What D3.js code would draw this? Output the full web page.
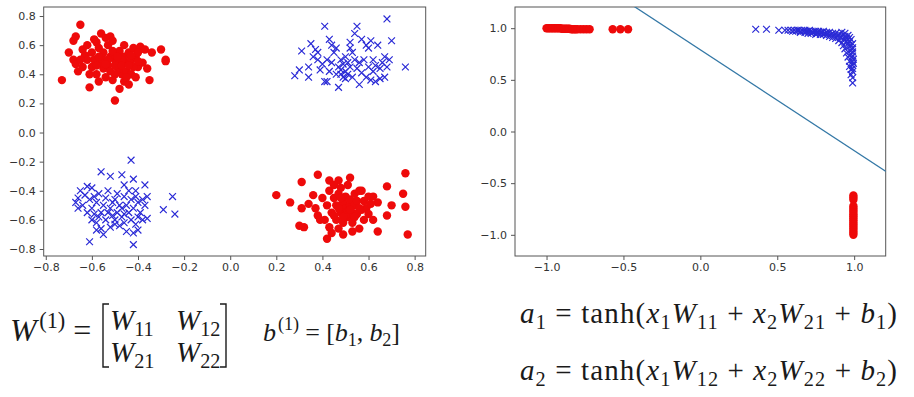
<!DOCTYPE html>
<html>
<head>
<meta charset="utf-8">
<script src="https://cdn.jsdelivr.net/npm/d3@7"></script>
<style>
  body { margin: 0; background: #fff; }
  svg { display: block; }
  text { white-space: pre; }
</style>
</head>
<body>
<svg id="chart" width="914" height="397"></svg>
<script>
// ============= Data =============

// input space, class "red" (circles)
const inputRedTopLeft = [
  [-0.73, 0.36], [-0.65, 0.74], [-0.70, 0.55], [-0.68, 0.63], [-0.67, 0.66], [-0.68, 0.50], [-0.67, 0.47],
  [-0.66, 0.42], [-0.64, 0.57], [-0.63, 0.53], [-0.62, 0.60], [-0.61, 0.31], [-0.60, 0.45], [-0.59, 0.64],
  [-0.58, 0.62], [-0.57, 0.58], [-0.56, 0.68], [-0.55, 0.50], [-0.55, 0.44], [-0.54, 0.65], [-0.53, 0.60],
  [-0.52, 0.66], [-0.51, 0.63], [-0.50, 0.22], [-0.50, 0.50], [-0.49, 0.45], [-0.48, 0.30], [-0.48, 0.56],
  [-0.47, 0.40], [-0.46, 0.52], [-0.45, 0.48], [-0.44, 0.55], [-0.43, 0.50], [-0.42, 0.58], [-0.41, 0.52],
  [-0.40, 0.45], [-0.39, 0.59], [-0.38, 0.48], [-0.37, 0.57], [-0.35, 0.36], [-0.34, 0.55], [-0.30, 0.57],
  [-0.28, 0.50], [-0.28, 0.49], [-0.58, 0.40], [-0.57, 0.35], [-0.56, 0.48], [-0.55, 0.55], [-0.54, 0.38],
  [-0.53, 0.46], [-0.52, 0.52], [-0.52, 0.42], [-0.51, 0.56], [-0.50, 0.40], [-0.49, 0.48], [-0.48, 0.44],
  [-0.47, 0.50], [-0.46, 0.35], [-0.45, 0.42], [-0.44, 0.33], [-0.43, 0.40], [-0.42, 0.45], [-0.41, 0.38],
  [-0.40, 0.55], [-0.62, 0.50], [-0.60, 0.55], [-0.59, 0.50], [-0.58, 0.46], [-0.61, 0.40], [-0.64, 0.45],
  [-0.65, 0.50], [-0.36, 0.44], [-0.40, 0.49], [-0.57, 0.52], [-0.53, 0.50], [-0.50, 0.46], [-0.47, 0.46],
  [-0.44, 0.46], [-0.51, 0.36], [-0.46, 0.60], [-0.54, 0.47], [-0.49, 0.52], [-0.45, 0.38], [-0.43, 0.53],
];

const inputRedBottomRight = [
  [0.20, -0.43], [0.26, -0.48], [0.31, -0.34], [0.31, -0.52], [0.30, -0.64], [0.32, -0.65], [0.34, -0.49],
  [0.36, -0.43], [0.38, -0.29], [0.38, -0.57], [0.39, -0.60], [0.42, -0.73], [0.43, -0.33], [0.47, -0.33],
  [0.52, -0.31], [0.57, -0.40], [0.56, -0.66], [0.64, -0.48], [0.64, -0.68], [0.68, -0.37], [0.68, -0.57],
  [0.70, -0.50], [0.75, -0.42], [0.76, -0.28], [0.76, -0.51], [0.77, -0.70], [0.62, -0.60], [0.60, -0.44],
  [0.42, -0.50], [0.43, -0.40], [0.43, -0.65], [0.44, -0.55], [0.44, -0.69], [0.45, -0.45], [0.45, -0.36],
  [0.46, -0.60], [0.46, -0.50], [0.47, -0.42], [0.47, -0.66], [0.48, -0.55], [0.48, -0.38], [0.49, -0.48],
  [0.49, -0.62], [0.50, -0.52], [0.50, -0.44], [0.51, -0.58], [0.51, -0.36], [0.52, -0.50], [0.52, -0.46],
  [0.53, -0.55], [0.53, -0.62], [0.54, -0.42], [0.54, -0.50], [0.55, -0.56], [0.55, -0.47], [0.56, -0.40],
  [0.57, -0.53], [0.58, -0.60], [0.58, -0.47], [0.59, -0.52], [0.60, -0.56], [0.61, -0.49], [0.62, -0.44],
  [0.40, -0.45], [0.41, -0.60], [0.37, -0.52], [0.49, -0.70], [0.53, -0.68], [0.47, -0.52], [0.51, -0.54],
  [0.50, -0.57], [0.56, -0.52], [0.45, -0.57], [0.48, -0.45], [0.52, -0.53], [0.49, -0.58], [0.54, -0.58],
];

// input space, class "blue" (crosses)
const inputBlueTopRight = [
  [0.28, 0.39], [0.30, 0.43], [0.31, 0.56], [0.34, 0.38], [0.34, 0.45], [0.35, 0.61], [0.36, 0.52],
  [0.37, 0.57], [0.38, 0.55], [0.39, 0.43], [0.40, 0.47], [0.41, 0.35], [0.42, 0.35], [0.41, 0.73],
  [0.42, 0.50], [0.43, 0.64], [0.44, 0.60], [0.45, 0.55], [0.46, 0.58], [0.47, 0.45], [0.47, 0.31],
  [0.48, 0.43], [0.48, 0.50], [0.49, 0.38], [0.49, 0.47], [0.50, 0.52], [0.50, 0.42], [0.51, 0.48],
  [0.51, 0.40], [0.52, 0.62], [0.52, 0.45], [0.53, 0.55], [0.53, 0.38], [0.54, 0.50], [0.54, 0.68],
  [0.55, 0.73], [0.55, 0.44], [0.56, 0.33], [0.56, 0.48], [0.57, 0.41], [0.57, 0.64], [0.58, 0.50],
  [0.59, 0.60], [0.59, 0.38], [0.60, 0.58], [0.60, 0.45], [0.61, 0.36], [0.61, 0.63], [0.62, 0.42],
  [0.62, 0.50], [0.63, 0.35], [0.63, 0.46], [0.64, 0.60], [0.65, 0.44], [0.65, 0.37], [0.66, 0.48],
  [0.67, 0.38], [0.67, 0.52], [0.68, 0.78], [0.68, 0.45], [0.69, 0.50], [0.70, 0.63], [0.76, 0.45],
  [0.44, 0.48], [0.46, 0.40], [0.43, 0.42], [0.38, 0.50], [0.52, 0.58], [0.48, 0.40], [0.50, 0.37],
];

const inputBlueBottomLeft = [
  [-0.43, -0.19], [-0.56, -0.27], [-0.52, -0.30], [-0.47, -0.29], [-0.42, -0.32], [-0.46, -0.36],
  [-0.37, -0.36], [-0.41, -0.40], [-0.25, -0.44], [-0.29, -0.53], [-0.24, -0.56], [-0.36, -0.59],
  [-0.61, -0.75], [-0.42, -0.77], [-0.62, -0.37], [-0.60, -0.38], [-0.65, -0.40], [-0.66, -0.45],
  [-0.67, -0.48], [-0.66, -0.52], [-0.64, -0.50], [-0.63, -0.43], [-0.61, -0.46], [-0.60, -0.52],
  [-0.59, -0.56], [-0.58, -0.62], [-0.58, -0.48], [-0.57, -0.42], [-0.56, -0.55], [-0.56, -0.66],
  [-0.55, -0.50], [-0.54, -0.45], [-0.54, -0.60], [-0.53, -0.40], [-0.52, -0.52], [-0.52, -0.65],
  [-0.51, -0.57], [-0.50, -0.46], [-0.50, -0.60], [-0.49, -0.42], [-0.49, -0.55], [-0.48, -0.64],
  [-0.48, -0.50], [-0.47, -0.58], [-0.46, -0.44], [-0.46, -0.62], [-0.45, -0.50], [-0.45, -0.68],
  [-0.44, -0.55], [-0.43, -0.46], [-0.43, -0.60], [-0.42, -0.52], [-0.42, -0.69], [-0.41, -0.44],
  [-0.41, -0.63], [-0.40, -0.48], [-0.40, -0.67], [-0.39, -0.55], [-0.38, -0.46], [-0.38, -0.60],
  [-0.37, -0.50], [-0.36, -0.44], [-0.55, -0.70], [-0.57, -0.58], [-0.59, -0.44], [-0.53, -0.55],
  [-0.51, -0.48], [-0.47, -0.52], [-0.44, -0.40], [-0.40, -0.58], [-0.62, -0.55], [-0.60, -0.60],
  [-0.58, -0.67], [-0.50, -0.63], [-0.46, -0.56],
];

// hidden layer (after tanh), class "red"
const hiddenRed = [
  [-1.00, 1.00], [-0.99, 1.00], [-0.98, 1.00], [-0.97, 1.00], [-0.96, 1.00], [-0.95, 1.00], [-0.94, 1.00],
  [-0.93, 1.00], [-0.92, 1.00], [-0.91, 1.00], [-0.90, 0.995], [-0.89, 0.995], [-0.88, 0.995], [-0.87, 0.995],
  [-0.86, 0.995], [-0.85, 0.995], [-0.84, 0.99], [-0.83, 0.99], [-0.82, 0.99], [-0.81, 0.99], [-0.80, 0.99],
  [-0.78, 0.99], [-0.76, 0.99], [-0.74, 0.99], [-0.72, 0.99], [-0.57, 0.99], [-0.52, 0.99], [-0.47, 0.99],
  [0.995, -0.62], [0.995, -0.64], [0.995, -0.66], [0.995, -0.72], [0.995, -0.74], [0.995, -0.76],
  [0.995, -0.78], [0.995, -0.80], [0.995, -0.82], [0.995, -0.84], [0.995, -0.86], [0.995, -0.88],
  [0.995, -0.90], [0.995, -0.92], [0.995, -0.94], [0.995, -0.96], [0.995, -0.98], [0.995, -1.00],
];

// hidden layer (after tanh), class "blue"
const hiddenBlue = [
  [0.36, 0.99], [0.43, 0.99], [0.51, 0.98], [0.55, 0.98], [0.57, 0.98], [0.59, 0.98], [0.61, 0.98],
  [0.62, 0.97], [0.63, 0.98], [0.64, 0.98], [0.65, 0.97], [0.66, 0.98], [0.67, 0.97], [0.68, 0.98],
  [0.69, 0.97], [0.70, 0.97], [0.71, 0.98], [0.72, 0.97], [0.73, 0.96], [0.74, 0.97], [0.75, 0.97],
  [0.76, 0.96], [0.77, 0.97], [0.78, 0.96], [0.79, 0.96], [0.80, 0.97], [0.81, 0.95], [0.82, 0.96],
  [0.83, 0.95], [0.84, 0.96], [0.85, 0.94], [0.86, 0.95], [0.87, 0.93], [0.88, 0.95], [0.89, 0.92],
  [0.90, 0.94], [0.91, 0.91], [0.92, 0.93], [0.93, 0.89], [0.94, 0.92], [0.95, 0.87], [0.95, 0.90],
  [0.96, 0.85], [0.96, 0.89], [0.97, 0.82], [0.97, 0.87], [0.975, 0.78], [0.98, 0.84], [0.98, 0.75],
  [0.985, 0.80], [0.985, 0.72], [0.99, 0.77], [0.99, 0.68], [0.99, 0.73], [0.99, 0.64], [0.995, 0.70],
  [0.99, 0.61], [0.995, 0.66], [0.99, 0.58], [0.98, 0.55], [0.99, 0.52], [0.99, 0.47], [0.70, 0.95],
  [0.75, 0.94], [0.80, 0.94], [0.65, 0.96], [0.72, 0.95], [0.78, 0.94], [0.82, 0.93], [0.84, 0.92],
  [0.86, 0.91], [0.88, 0.90], [0.90, 0.88], [0.92, 0.86], [0.93, 0.83], [0.94, 0.80], [0.95, 0.76],
  [0.96, 0.72], [0.97, 0.68], [0.97, 0.63], [0.98, 0.60], [0.92, 0.96], [0.94, 0.95], [0.96, 0.93],
  [0.97, 0.91], [0.98, 0.89], [0.99, 0.85], [0.99, 0.81], [0.60, 0.97], [0.68, 0.96], [0.76, 0.95],
];

// decision boundary in hidden space (two end points)
const boundaryX = [-0.43, 1.21];
const boundaryY = [1.21, -0.39];

const leftTicks = [-0.8, -0.6, -0.4, -0.2, 0.0, 0.2, 0.4, 0.6, 0.8];
const rightTicks = [-1.0, -0.5, 0.0, 0.5, 1.0];

const leftDomainX = [-0.809, 0.848];
const leftDomainY = [-0.848, 0.862];
const rightDomainX = [-1.205, 1.205];
const rightDomainY = [-1.205, 1.205];

// ============= Styles =============

const RED = "#ee0a0a";
const BLUE = "#2b2bd6";
const LINE_COLOR = "#3478a6";
const FRAME_COLOR = "#555";
const TICK_TEXT = "#333";
const TICK_FONT = "'DejaVu Sans', sans-serif";
const MATH_FONT = "'Liberation Serif', 'DejaVu Serif', serif";

const LEFT_FRAME = { x0: 43.7, x1: 425.7, y0: 7, y1: 256 };
const RIGHT_FRAME = { x0: 515, x1: 885.7, y0: 7, y1: 256 };

const svg = d3.select("#chart");

// ============= Panels =============

const drawPanel = (frame, domainX, domainY, ticks, id) => {
  const x = d3.scaleLinear().domain(domainX).range([frame.x0, frame.x1]);
  const y = d3.scaleLinear().domain(domainY).range([frame.y1, frame.y0]);
  const fmt = d3.format(".1f");

  const g = svg.append("g");

  g.append("clipPath")
    .attr("id", id)
    .append("rect")
    .attr("x", frame.x0)
    .attr("y", frame.y0)
    .attr("width", frame.x1 - frame.x0)
    .attr("height", frame.y1 - frame.y0);

  const xAxis = g
    .append("g")
    .attr("transform", `translate(0,${frame.y1})`)
    .call(d3.axisBottom(x).tickValues(ticks).tickFormat(fmt).tickSize(4).tickPadding(3));
  const yAxis = g
    .append("g")
    .attr("transform", `translate(${frame.x0},0)`)
    .call(d3.axisLeft(y).tickValues(ticks).tickFormat(fmt).tickSize(4).tickPadding(4));

  [xAxis, yAxis].forEach((axis) => {
    axis.select(".domain").remove();
    axis.selectAll("line").attr("stroke", FRAME_COLOR);
    axis
      .selectAll("text")
      .style("font-family", TICK_FONT)
      .style("font-size", "11px")
      .attr("fill", TICK_TEXT);
  });

  g.append("rect")
    .attr("x", frame.x0)
    .attr("y", frame.y0)
    .attr("width", frame.x1 - frame.x0)
    .attr("height", frame.y1 - frame.y0)
    .attr("fill", "none")
    .attr("stroke", FRAME_COLOR)
    .attr("stroke-width", 1);

  const marks = g.append("g").attr("clip-path", `url(#${id})`);
  return { x, y, marks };
};

const drawCircles = (panel, points) => {
  panel.marks
    .append("g")
    .selectAll("circle")
    .data(points)
    .join("circle")
    .attr("cx", (d) => panel.x(d[0]))
    .attr("cy", (d) => panel.y(d[1]))
    .attr("r", 4.2)
    .attr("fill", RED);
};

const drawCrosses = (panel, points) => {
  const s = 3.4;
  panel.marks
    .append("g")
    .selectAll("path")
    .data(points)
    .join("path")
    .attr("transform", (d) => `translate(${panel.x(d[0])},${panel.y(d[1])})`)
    .attr("d", `M${-s},${-s}L${s},${s}M${-s},${s}L${s},${-s}`)
    .attr("stroke", BLUE)
    .attr("stroke-width", 1.2)
    .attr("fill", "none");
};

const left = drawPanel(LEFT_FRAME, leftDomainX, leftDomainY, leftTicks, "clip-left");
drawCircles(left, inputRedTopLeft);
drawCircles(left, inputRedBottomRight);
drawCrosses(left, inputBlueTopRight);
drawCrosses(left, inputBlueBottomLeft);

const right = drawPanel(RIGHT_FRAME, rightDomainX, rightDomainY, rightTicks, "clip-right");
drawCircles(right, hiddenRed);
drawCrosses(right, hiddenBlue);

const boundary = boundaryX.map((v, i) => [v, boundaryY[i]]);
right.marks
  .append("path")
  .datum(boundary)
  .attr("d", d3.line().x((d) => right.x(d[0])).y((d) => right.y(d[1])))
  .attr("stroke", LINE_COLOR)
  .attr("stroke-width", 1.3)
  .attr("fill", "none");

// ============= Formulas =============

/**
 * Writes a piece of math as one text element; parts are [text, kind]
 * kind: "i" italic, "r" roman, "sub"/"sup" small roman
 */
const mathText = (x, y, size, parts, width) => {
  const t = svg
    .append("text")
    .attr("x", x)
    .attr("y", y)
    .style("font-family", MATH_FONT)
    .style("font-size", `${size}px`)
    .attr("fill", "#1a1a1a");
  let shift = 0;
  let prev = "";
  parts.forEach(([s, kind]) => {
    const sp = t.append("tspan").text(s);
    let target = 0;
    if (kind === "sub") target = size * 0.2;
    if (kind === "sup") target = -size * 0.42;
    sp.attr("dy", target - shift);
    shift = target;
    if (kind === "sub" || kind === "sup") sp.style("font-size", `${size * 0.7}px`);
    // italic glyphs lean right, so push the superscript a bit
    if (kind === "sup" && prev === "i") sp.attr("dx", size * 0.08);
    sp.style("font-style", kind === "i" ? "italic" : "normal");
    prev = kind;
  });
  if (width) {
    // only stretch the spacing, never squeeze glyphs together
    const natural = t.node().getComputedTextLength();
    if (natural < width) t.attr("textLength", width).attr("lengthAdjust", "spacing");
  }
  return t;
};

// W^(1) = [ ... ]
mathText(10, 341, 32, [["W", "i"], ["(1)", "sup"], [" =", "r"]], 77);

const bracket = (x, dir) => {
  const top = 304, bottom = 367, w = 6 * dir;
  svg
    .append("path")
    .attr("d", `M${x + w},${top}H${x}V${bottom}H${x + w}`)
    .attr("stroke", "#1a1a1a")
    .attr("stroke-width", 1.4)
    .attr("fill", "none");
};
bracket(103, 1);
bracket(226, -1);

mathText(110, 330, 29, [["W", "i"], ["11", "sub"]]);
mathText(176, 330, 29, [["W", "i"], ["12", "sub"]]);
mathText(110, 362, 29, [["W", "i"], ["21", "sub"]]);
mathText(176, 362, 29, [["W", "i"], ["22", "sub"]]);

mathText(263, 341, 26, [
  ["b", "i"], ["(1)", "sup"], [" = [", "r"], ["b", "i"], ["1", "sub"], [", ", "r"],
  ["b", "i"], ["2", "sub"], ["]", "r"],
], 137);

mathText(520, 323, 29, [
  ["a", "i"], ["1", "sub"], [" = tanh(", "r"], ["x", "i"], ["1", "sub"], ["W", "i"], ["11", "sub"],
  [" + ", "r"], ["x", "i"], ["2", "sub"], ["W", "i"], ["21", "sub"], [" + ", "r"], ["b", "i"], ["1", "sub"],
  [")", "r"],
], 377);

mathText(520, 380, 29, [
  ["a", "i"], ["2", "sub"], [" = tanh(", "r"], ["x", "i"], ["1", "sub"], ["W", "i"], ["12", "sub"],
  [" + ", "r"], ["x", "i"], ["2", "sub"], ["W", "i"], ["22", "sub"], [" + ", "r"], ["b", "i"], ["2", "sub"],
  [")", "r"],
], 377);
</script>
</body>
</html>
